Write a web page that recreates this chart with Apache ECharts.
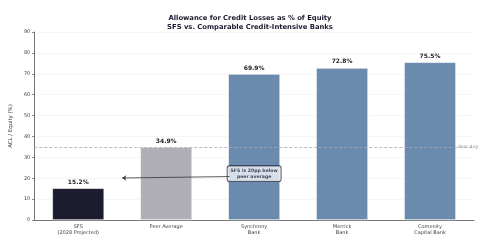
<!DOCTYPE html>
<html>
<head>
<meta charset="utf-8">
<script src="https://cdn.jsdelivr.net/npm/echarts@6/dist/echarts.min.js"></script>
<style>
  html, body { margin: 0; padding: 0; background: #fff; }
  #chart { width: 500px; height: 246px; }
</style>
</head>
<body>
<div id="chart"></div>
<script>
const categories = ['SFS\n(2028 Projected)', 'Peer Average', 'Synchrony\nBank', 'Merrick\nBank', 'Comenity\nCapital Bank'];
const aclEquity = [15.2, 34.9, 69.9, 72.8, 75.5];
const barColors = ['#1c1c30', '#b0afb8', '#6a8aae', '#6a8aae', '#6a8aae'];
const peerAvg = 34.9;
// annotation: arrow from text box to SFS bar
const arrowFrom = [1.72, 20.8];
const arrowTo = [0.5, 20.1];
const notePos = [2.0, 22.2];

const chart = echarts.init(document.getElementById('chart'));

chart.setOption({
  animation: false,
  textStyle: { fontFamily: 'DejaVu Sans' },
  title: {
    text: 'Allowance for Credit Losses as % of Equity\nSFS vs. Comparable Credit-Intensive Banks',
    left: 'center',
    top: 9,
    textStyle: { fontSize: 6.8, fontWeight: 'bold', color: '#1a1a2e', lineHeight: 9 }
  },
  grid: { left: 32, right: 26, top: 32, bottom: 26 },
  xAxis: [
    {
      type: 'category',
      data: categories,
      axisLine: { lineStyle: { color: '#777' } },
      axisTick: { alignWithLabel: true, length: 2, lineStyle: { color: '#777' } },
      axisLabel: { fontSize: 5, color: '#444', lineHeight: 6, margin: 4 }
    },
    {
      type: 'value',
      min: -0.5,
      max: 4.5,
      show: false
    }
  ],
  yAxis: {
    type: 'value',
    min: 0,
    max: 90,
    interval: 10,
    name: 'ACL / Equity (%)',
    nameLocation: 'middle',
    nameGap: 18,
    nameTextStyle: { fontSize: 5.4, color: '#444' },
    axisLine: { show: true, onZero: false, lineStyle: { color: '#777' } },
    axisTick: { show: true, length: 2, lineStyle: { color: '#777' } },
    axisLabel: { fontSize: 5, color: '#444', margin: 4 },
    splitLine: { lineStyle: { color: '#f0f0f0', width: 0.6 } }
  },
  series: [
    {
      type: 'bar',
      data: aclEquity.map((v, i) => ({ value: v, itemStyle: { color: barColors[i] } })),
      barWidth: '59%',
      itemStyle: { borderColor: '#ffffff', borderWidth: 0.6 },
      label: {
        show: true,
        position: 'top',
        distance: 3,
        formatter: p => p.value.toFixed(1) + '%',
        fontSize: 6,
        fontWeight: 'bold',
        color: '#222'
      },
      markLine: {
        silent: true,
        symbol: 'none',
        lineStyle: { color: '#aaa', type: [3, 2], width: 0.8 },
        label: {
          position: 'end',
          formatter: 'Peer Avg',
          fontSize: 4.5,
          fontStyle: 'italic',
          color: '#999',
          distance: [-16, 3]
        },
        data: [{ yAxis: peerAvg }]
      },
      z: 2
    },
    {
      type: 'line',
      xAxisIndex: 1,
      data: [],
      markLine: {
        silent: true,
        symbol: ['none', 'arrow'],
        symbolSize: 4,
        label: { show: false },
        lineStyle: { color: '#333', type: 'solid', width: 0.8 },
        data: [[{ coord: arrowFrom }, { coord: arrowTo }]]
      },
      z: 3
    },
    {
      type: 'scatter',
      xAxisIndex: 1,
      symbolSize: 0,
      data: [notePos],
      label: {
        show: true,
        position: 'inside',
        formatter: 'SFS is 20pp below\npeer average',
        fontSize: 4.6,
        fontWeight: 'bold',
        color: '#1a1a2e',
        align: 'center',
        lineHeight: 5.5,
        backgroundColor: '#f3f4f8',
        borderColor: '#1a1a2e',
        borderWidth: 0.8,
        borderRadius: 2,
        padding: [2, 3]
      },
      z: 4
    }
  ]
});
</script>
</body>
</html>
